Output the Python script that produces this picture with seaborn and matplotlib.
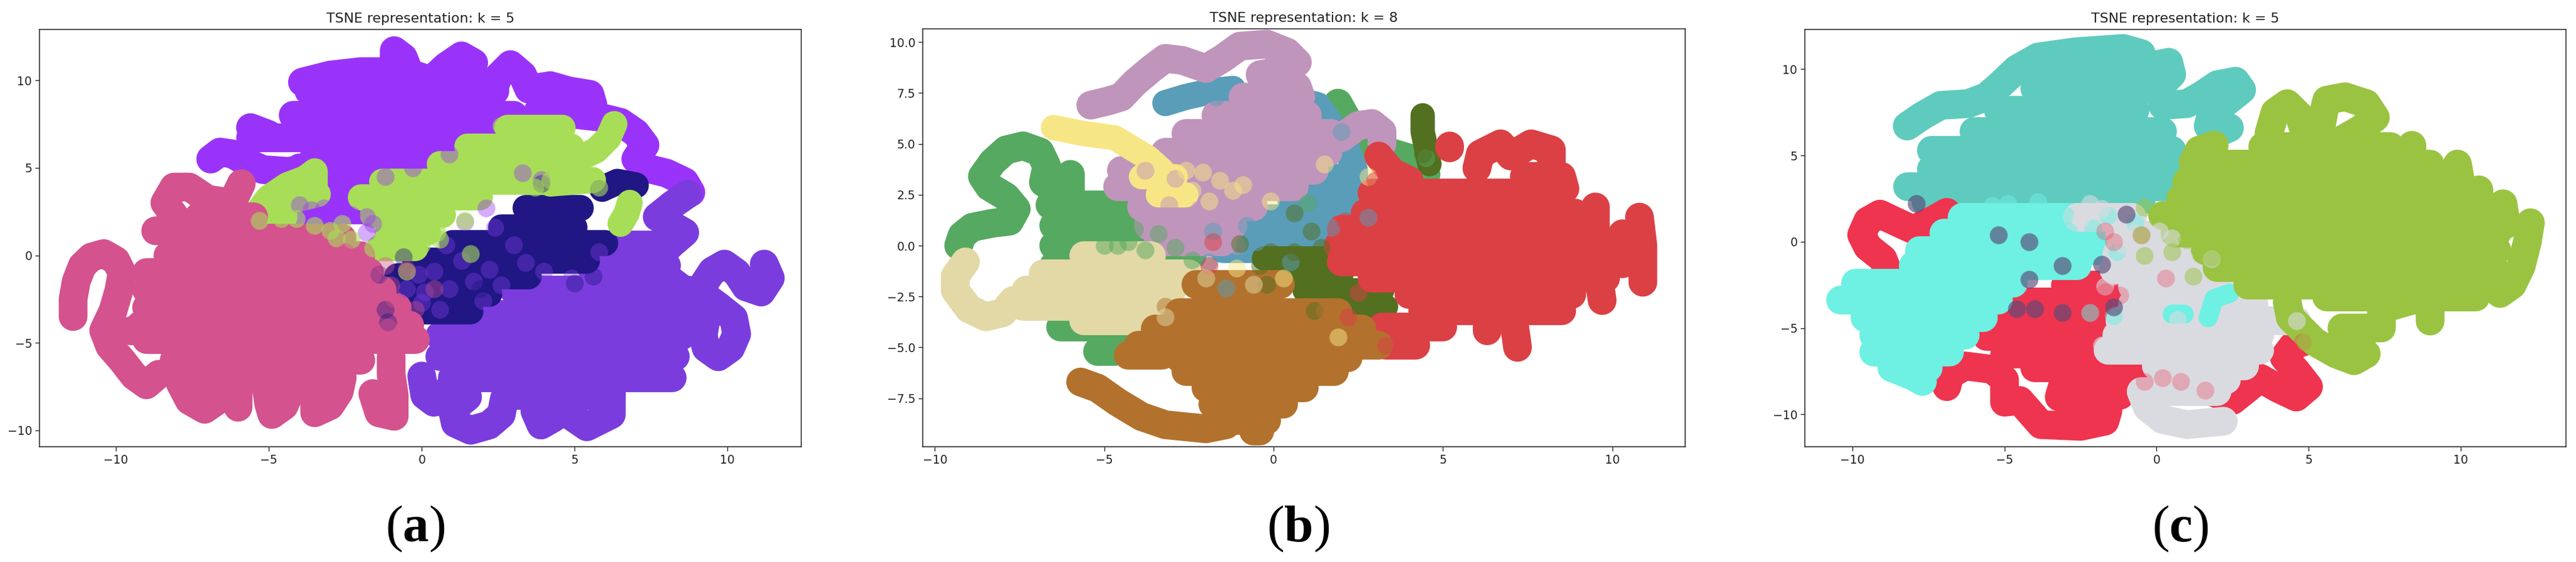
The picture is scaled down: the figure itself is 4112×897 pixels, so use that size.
import pandas as pd
import matplotlib
matplotlib.use("Agg")
import matplotlib.pyplot as plt
import seaborn as sns

sns.set_style("ticks")
plt.rcParams['font.family'] = ['DejaVu Sans']
plt.rcParams['mathtext.fontset'] = 'custom'
plt.rcParams['mathtext.rm'] = 'Liberation Serif'
plt.rcParams['mathtext.bf'] = 'Liberation Serif:bold'

W, H, DPI = 4112, 897, 100
xticks = [-10, -5, 0, 5, 10]
yticks_wide = [-10, -5, 0, 5, 10]
yticks_b = [-7.5, -5.0, -2.5, 0.0, 2.5, 5.0, 7.5, 10.0]

# traces = single strands of points, rows = (y, x from, x to) for the packed parts

# ---- panel a
a_purple = [
    [(-6.9,5.5),(-6.6,5.9),(-6.2,5.8),(-5.7,5.3),(-5.2,4.9),(-4.4,4.8),(-3.7,4.9)],
    [(-3.9,9.9),(-3.0,10.3),(-2.0,10.5),(-1.0,10.5),(-0.9,11.2),(-0.9,11.7),(-0.6,11.3),(-0.4,10.4),(0.3,10.0),(0.8,10.8),(1.3,11.4),(1.7,11.0),(1.5,10.0),(1.4,9.5)],
    [(2.3,9.3),(2.5,10.2),(2.9,10.9),(3.3,10.3),(3.5,9.5),(4.2,9.7),(4.8,9.4),(5.5,9.2),(5.6,8.6),(5.3,8.0)],
    [(3.8,8.2),(4.8,8.1),(5.8,7.9),(6.5,7.6),(7.0,7.0),(7.3,6.3),(7.0,5.5),(7.3,5.0),(8.0,4.7),(8.6,4.2),(8.8,3.6)],
    [(-5.6,7.3),(-5.0,6.9)],
]
a_purple_rows = [(9.4,-3.7,2.4),(8.0,-4.2,3.0),(6.7,-5.6,2.5),(5.7,-3.5,0.0),(5.0,-4.0,0.0),(3.8,-3.5,-1.0),(2.6,-4.0,-1.5)]
a_violet = [
    [(8.7,3.5),(8.2,2.9),(7.7,2.2),(8.2,1.7),(8.6,1.3),(8.2,0.7),(7.9,0.2),(7.9,-1.1),(8.5,-1.9),(9.0,-2.2)],
    [(9.2,-1.7),(9.5,-0.9),(9.9,-0.5),(10.3,-1.0),(10.6,-1.8),(11.1,-2.1),(11.4,-1.3),(11.2,-0.5)],
    [(9.0,-2.0),(9.7,-2.9),(10.2,-3.6),(10.3,-4.5),(10.1,-5.3),(9.7,-5.8),(9.3,-5.3),(9.2,-4.6),(9.3,-3.6),(8.8,-2.8)],
    [(6.2,-7.2),(6.2,-8.2),(6.2,-9.1),(5.4,-9.8),(4.9,-9.2),(4.7,-8.7),(4.3,-9.3),(3.9,-9.7),(3.7,-8.9),(3.9,-8.1)],
    [(2.7,-8.2),(2.6,-9.1),(2.2,-9.7),(1.6,-10.0),(1.1,-9.6),(1.0,-8.8),(1.5,-8.1),(0.9,-7.6),(0.4,-8.4),(0.1,-8.0),(0.0,-6.9)],
]
a_violet_rows = [(0.6,5.5,8.0),(-0.6,5.5,8.0),(-2.0,3.0,8.7),(-3.4,1.6,9.0),(-4.6,0.6,8.5),(-5.8,0.6,8.3),(-7.0,1.0,8.2),(-8.0,3.0,6.2)]
a_navy = [[(5.9,3.8),(6.4,4.2),(7.0,4.0)]]
a_navy_rows = [(2.7,3.4,5.2),(1.6,2.6,5.0),(0.7,1.0,6.0),(-0.3,-0.2,5.4),(-1.2,-0.8,3.5),(-2.2,-1.0,2.2),(-3.2,-0.4,1.6)]
a_green = [
    [(6.3,7.5),(6.1,6.7),(5.7,6.0),(5.1,5.5),(4.8,6.0)],
    [(-5.4,2.4),(-5.0,3.3),(-4.4,4.0),(-3.8,4.4),(-3.5,4.8),(-3.5,3.7)],
    [(-4.8,2.9),(-3.4,3.5)],
    [(6.8,3.0),(6.7,2.4),(6.5,1.8)],
    [(5.6,4.3),(4.2,4.1)],
]
a_green_rows = [(7.3,2.8,4.6),(6.2,1.5,4.9),(5.2,0.6,5.0),(4.2,-1.3,4.0),(3.3,-2.0,1.9),(2.3,-1.6,0.7),(2.2,-5.6,-4.5),(1.3,-1.1,0.2),(0.4,-1.4,-0.2)]
a_pink = [
    [(-11.4,-3.5),(-11.4,-2.5),(-11.3,-1.5),(-11.1,-0.6),(-10.8,-0.1),(-10.4,0.1),(-10.0,-0.3),(-9.8,-1.0),(-9.9,-2.0),(-10.1,-3.2),(-10.4,-4.3),(-10.2,-5.2),(-9.8,-6.0),(-9.4,-6.9),(-9.0,-7.4),(-8.6,-6.8)],
    [(-8.7,1.4),(-7.8,1.6),(-8.4,3.0),(-8.1,3.9),(-7.6,3.9),(-7.0,3.2),(-6.2,3.0),(-5.9,4.1)],
    [(-7.9,-7.3),(-7.6,-8.3),(-7.1,-8.8),(-6.6,-8.2),(-6.6,-7.2)],
    [(-6.0,-7.2),(-6.0,-8.7)],
    [(-5.1,-7.4),(-5.0,-8.5),(-4.9,-9.1),(-4.5,-8.6),(-4.3,-7.8)],
    [(-3.5,-7.8),(-3.5,-9.0),(-3.0,-8.6),(-2.7,-7.8),(-2.6,-7.0)],
    [(-1.6,-7.9),(-1.4,-9.0),(-0.9,-9.2),(-0.9,-8.0),(-1.0,-6.8),(-1.0,-5.8)],
    [(-9.5,-4.3),(-9.0,-4.3)],
]
a_pink_rows = [(2.2,-7.3,-5.5),(1.0,-8.0,-2.6),(0.0,-8.3,-2.0),(-1.0,-9.0,-1.7),(-2.0,-9.0,-1.3),(-3.0,-9.0,-0.8),(-4.0,-9.2,-0.4),(-4.8,-9.0,-0.2),(-6.0,-8.1,-2.0),(-7.0,-7.6,-2.8)]
a_purple_dots = [(-4.0,2.9),(-3.2,2.7),(-2.3,2.3),(-1.8,2.2),(-1.6,1.8),(-1.8,1.3),(-2.6,5.3),(-1.6,5.4),(-0.3,5.0),(0.9,5.8),(3.3,4.7),(3.9,4.3),(2.1,2.7),(1.4,1.9),(-0.7,5.5),(-2.3,4.7),(-1.2,4.5),(-3.6,2.6),(-2.8,2.8)]
a_violet_dots = [(2.4,1.6),(0.1,-2.1),(-0.5,-1.9),(3.4,-0.4),(4.0,-0.9),(2.6,-1.7),(4.9,-1.3),(5.8,0.2),(1.7,-1.5),(0.6,-3.1),(-0.1,-1.1),(7.8,2.2),(0.8,0.6),(1.3,-0.3),(0.4,-0.9),(2.2,-0.8),(3.0,0.6),(0.9,-1.9),(2.0,-2.6),(0.0,-2.7)]
a_navy_dots = [(-1.2,-3.1),(-1.1,-3.8),(-1.4,-1.1),(5.8,3.8),(1.9,-1.9),(3.9,4.1),(5.6,-1.2),(5.0,-1.6),(-0.6,-0.1)]
a_green_dots = [(1.6,0.1),(-0.5,-0.9),(0.5,1.3),(1.4,2.0),(-5.3,2.0),(-4.6,2.1),(-4.1,2.1),(-3.5,1.7),(-2.8,1.0),(-2.3,0.9),(-1.6,0.4),(0.0,0.6),(6.2,7.7),(2.6,7.4),(3.7,3.9),(6.6,1.7),(5.8,3.9),(4.2,4.3),(-2.6,1.8),(-3.0,1.4),(0.6,0.9)]
a_pink_dots = [(-1.0,-1.7),(-1.6,-1.1),(-0.9,-2.5),(-0.5,-0.8),(0.4,-1.9),(-1.1,-4.1),(-5.9,4.1),(-2.5,0.2),(-0.2,-3.1),(-1.2,-0.6)]

# ---- panel b
b_green = [
    [(-9.3,0.0),(-9.2,0.5),(-8.9,0.9),(-8.3,1.1),(-7.8,1.2),(-7.6,1.8),(-7.9,2.4),(-8.4,2.9),(-8.6,3.4),(-8.3,4.1),(-7.9,4.7),(-7.4,4.9),(-6.9,4.6),(-6.7,3.9),(-6.8,3.1),(-6.5,2.8),(-6.0,3.5),(-6.0,2.6)],
    [(1.9,7.0),(2.1,6.4),(2.4,5.6),(2.8,4.9),(3.6,4.5),(4.2,4.2),(4.5,3.5)],
]
b_green_rows = [(2.0,-6.6,-4.3),(1.0,-6.5,-3.2),(0.0,-6.5,-2.6),(-0.5,-4.5,-2.4),(-1.0,-6.5,-5.0),(-2.0,-6.5,-5.0),(-3.0,-6.5,-5.0),(-4.0,-6.3,-4.2),(-5.2,-5.2,-4.7)]
b_blue = [
    [(-3.2,7.0),(-2.6,7.3),(-1.8,7.6),(-1.2,7.7)],
    [(0.6,7.2),(1.3,6.9),(1.6,6.2),(1.9,5.4),(2.2,4.6),(2.4,3.7),(2.4,2.7)],
]
b_blue_rows = [(3.4,1.0,2.3),(2.2,0.5,2.5),(1.4,-0.3,2.7),(0.6,-1.0,1.8),(-0.2,-1.5,0.8)]
b_olive = [[(4.4,6.4),(4.4,5.6),(4.5,4.8),(4.6,4.0)]]
b_olive_rows = [(-0.6,-0.3,1.6),(-1.4,0.2,2.0),(-2.2,0.9,3.2),(-3.0,1.2,3.3)]
b_mauve = [
    [(-5.4,6.9),(-4.9,7.1),(-4.5,7.3),(-4.1,8.0),(-3.6,8.7),(-3.2,9.2),(-2.7,9.1),(-2.0,8.7),(-1.5,9.2),(-1.0,9.8),(-0.2,9.9),(0.4,9.5),(0.7,9.0),(0.3,8.6),(-0.4,8.4),(0.7,7.8),(0.8,7.3)],
    [(2.0,5.3),(2.5,5.9),(2.9,6.0),(3.2,5.6),(3.2,5.0)],
]
b_mauve_rows = [(7.3,-0.9,0.8),(6.4,-1.7,1.0),(5.5,-2.6,1.7),(4.6,-3.2,1.6),(3.7,-4.5,1.2),(2.9,-4.6,0.6),(1.9,-3.9,-0.6),(1.0,-3.7,-1.2),(0.2,-3.4,-1.5)]
b_yellow = [[(-6.5,5.8),(-5.6,5.5),(-4.7,5.3),(-4.2,4.8),(-3.7,4.3),(-3.3,3.7),(-3.0,3.0)]]
b_yellow_rows = [(3.4,-3.9,-2.9),(2.5,-3.4,-2.6)]
b_red = [
    [(5.2,4.9),(5.2,4.8)],
    [(6.0,3.8),(6.1,4.5),(6.7,5.0),(7.0,4.4),(7.6,5.0),(8.2,4.7),(8.2,4.0)],
    [(7.4,3.4),(8.5,3.4),(8.6,2.8)],
    [(3.1,4.4),(3.5,3.6),(4.0,3.2)],
    [(9.5,1.9),(9.5,-0.5),(9.7,-2.7)],
    [(10.8,1.4),(10.9,0.0),(10.9,-1.8)],
    [(10.3,0.6),(10.3,-0.9)],
    [(6.3,-3.4),(6.3,-4.2)],
    [(7.1,-3.8),(7.2,-5.0)],
]
b_red_rows = [(2.6,2.9,8.5),(1.6,2.7,8.9),(0.8,2.0,9.5),(0.0,1.9,10.5),(-0.8,2.0,10.5),(-1.6,2.9,9.8),(-2.4,4.0,8.8),(-3.2,4.4,8.5),(-4.0,3.2,5.0),(-4.9,3.3,4.2)]
b_cream = [[(-9.1,-0.8),(-9.4,-1.5),(-9.4,-2.2),(-9.0,-3.1),(-8.5,-3.5),(-8.0,-3.3),(-7.7,-2.7)]]
b_cream_rows = [(-0.5,-5.6,-3.6),(-1.4,-6.8,-2.5),(-2.2,-7.3,-3.0),(-3.0,-7.4,-3.2),(-3.7,-5.6,-3.3)]
b_brown = [[(-5.7,-6.7),(-5.2,-7.0),(-4.6,-7.7),(-3.9,-8.4),(-3.2,-8.8),(-2.0,-9.0),(-1.4,-8.8)]]
b_brown_rows = [(-1.9,-2.3,0.2),(-2.5,-2.0,-0.5),(-3.3,-2.8,1.9),(-4.1,-3.5,2.6),(-4.9,-4.0,3.1),(-5.4,-4.3,-3.3),(-5.5,-2.8,2.2),(-6.2,-2.6,1.8),(-7.0,-2.0,0.9),(-7.8,-1.8,0.3),(-8.6,-1.5,-0.2),(-9.1,-0.6,-0.4)]
b_mauve_dots = [(-2.9,3.3),(-3.8,3.7),(-2.2,1.8),(-2.5,0.5),(-1.1,0.0),(-1.5,1.9),(-3.5,0.9),(0.7,3.2),(-1.2,3.4),(-2.9,1.2),(-3.1,2.0)]
b_yellow_dots = [(-2.1,3.6),(-1.2,2.7),(-2.4,2.7),(-0.9,3.0),(-0.1,2.2),(1.5,4.0),(2.8,3.4),(0.3,-1.6),(1.9,-4.5),(-1.9,2.2),(-1.1,-1.1),(-1.6,3.2),(-2.6,3.7)]
b_green_dots = [(-4.1,0.8),(-4.3,0.2),(-5.0,0.0),(-2.9,-0.1),(-2.4,-0.7),(-3.4,0.6),(4.5,4.3),(1.0,2.1),(-4.6,0.0),(-3.8,-0.2)]
b_blue_dots = [(-1.8,0.7),(-0.8,1.0),(2.8,1.4),(1.7,0.9),(-1.4,-2.1),(-1.7,7.3),(2.0,5.6),(-1.9,-0.8),(-0.5,0.2),(0.5,-0.8)]
b_red_dots = [(-1.8,0.2),(3.0,3.2),(2.1,1.2),(-1.9,-1.0),(2.5,-2.3),(2.8,-1.0),(2.2,-3.5),(3.3,-4.9),(2.9,-1.8)]
b_olive_dots = [(-1.0,0.1),(-0.1,-0.3),(-0.4,-1.0),(1.4,-0.1),(0.6,-0.3),(1.2,-3.2),(0.6,1.6),(1.1,0.7),(4.4,4.5),(-0.2,-1.9)]
b_brown_dots = [(-3.1,-3.6),(-3.6,-4.1),(-2.4,-2.1),(-0.6,-1.9),(1.5,-3.2),(-3.2,-3.0)]
b_cream_dots = [(-3.2,-3.5),(-0.6,-1.9),(-2.0,-1.6)]

# ---- panel c
c_teal = [
    [(-8.2,6.7),(-7.7,7.3),(-7.1,7.9),(-6.2,8.0),(-5.6,8.4),(-5.2,9.0),(-4.6,10.0),(-3.9,10.7),(-2.7,11.0),(-1.1,11.2),(-0.5,10.9),(-0.7,10.0)],
    [(-0.7,10.0),(0.4,10.4),(0.5,9.7),(0.1,9.0),(-0.4,8.8)],
    [(0.2,7.9),(1.0,8.0),(1.5,8.5),(2.0,9.1),(2.6,9.3),(2.8,8.8),(2.3,8.1),(1.8,7.4),(1.7,6.7),(2.0,6.3),(2.4,6.6)],
]
c_teal_rows = [(10.2,-4.0,-0.9),(8.9,-4.0,-0.5),(7.6,-5.2,-0.7),(6.4,-6.0,0.2),(5.3,-7.4,0.5),(4.2,-7.4,0.4),(3.2,-8.2,0.3),(2.4,-6.0,-0.5),(2.3,-7.6,-6.9)]
c_red = [
    [(-8.8,-1.9),(-9.0,-1.0),(-9.5,-0.3),(-9.7,0.4),(-9.5,1.2),(-9.1,1.6),(-8.5,1.1),(-8.0,0.7),(-7.3,1.3),(-6.9,1.7)],
    [(-6.9,-8.4),(-6.8,-7.7),(-6.3,-7.2),(-5.4,-7.4),(-5.0,-8.0),(-5.0,-9.3),(-4.5,-9.2),(-4.1,-10.0),(-3.8,-10.6),(-2.5,-10.7),(-1.7,-10.4),(-1.6,-9.8),(-2.3,-9.5),(-3.2,-9.0),(-3.1,-8.4),(-2.0,-8.3),(-1.2,-8.9),(-1.0,-8.2),(0.3,-8.0),(1.3,-8.3),(2.5,-9.2),(3.0,-8.5),(3.4,-7.9),(4.0,-8.5),(4.6,-9.0),(5.0,-8.4),(4.6,-7.5),(4.2,-6.7),(4.5,-6.0),(5.0,-5.7)],
]
c_red_rows = [(-2.5,-3.0,-1.6),(-3.5,-4.3,-1.4),(-4.5,-5.0,-1.6),(-5.5,-5.6,-2.2),(-6.5,-5.0,-1.8),(-7.3,-4.0,0.3)]
c_aqua = [[(-8.7,-7.3),(-8.0,-7.8),(-7.7,-8.1)]]
c_aqua_rows = [(1.4,-6.4,-2.6),(0.5,-7.0,-1.2),(-0.5,-7.8,-1.5),(-1.4,-8.0,-2.6),(-2.4,-9.9,-4.7),(-3.4,-10.4,-5.2),(-4.4,-9.6,-5.7),(-5.4,-9.3,-6.3),(-6.4,-9.3,-6.8),(-7.3,-8.7,-7.5)]
c_grey = [[(-0.5,-8.7),(-0.3,-9.6),(0.2,-10.3),(1.0,-10.6),(2.2,-10.4)], [(-0.5,-8.7),(2.0,-8.7)]]
c_grey_rows = [(1.4,-2.6,-0.8),(0.4,-1.2,0.5),(-0.7,-1.3,0.7),(-1.6,-1.4,2.0),(-2.6,-0.8,2.6),(-3.6,-0.8,3.2),(-4.6,-1.2,4.6),(-5.4,-1.3,3.4),(-6.3,-1.6,3.4),(-7.2,0.0,2.9),(-8.0,1.0,2.3)]
c_aqua_patch = [[(2.4,-3.0),(1.9,-3.3),(1.7,-4.4)], [(0.5,-4.2),(0.9,-4.2)]]
c_olive = [
    [(5.4,6.5),(5.5,7.5),(5.6,8.2),(6.2,8.4),(6.9,8.0),(7.2,7.2),(6.7,6.5),(6.0,5.8)],
    [(3.7,6.3),(3.9,7.5),(4.3,8.0),(4.7,7.3),(4.9,6.2)],
    [(1.2,4.6),(1.4,5.3),(1.9,5.6)],
    [(8.4,5.6),(8.4,5.0)],
    [(9.9,4.5),(10.0,3.5)],
    [(10.6,3.0),(10.6,2.0)],
    [(11.4,2.2),(11.5,1.0)],
    [(12.3,1.1),(12.2,0.0),(12.0,-1.4),(11.7,-2.5),(11.3,-3.0)],
    [(9.0,-4.6),(9.0,-3.3),(8.4,-3.4),(7.4,-3.9),(7.4,-5.0),(6.1,-5.0),(6.9,-6.5),(6.5,-6.9),(5.9,-6.5),(5.2,-5.8),(4.4,-4.4),(4.3,-3.5)],
]
c_olive_rows = [(5.5,3.5,7.7),(4.5,2.0,9.0),(3.5,1.0,9.3),(2.5,0.8,10.1),(1.5,0.2,11.3),(0.5,0.6,11.2),(-0.5,1.6,11.2),(-1.5,2.0,11.1),(-2.5,3.0,10.7),(-3.2,5.6,8.4),(-3.2,9.0,10.5)]
c_aqua_dots = [(-3.9,2.3),(-4.9,2.2),(-5.4,2.1),(-3.6,1.3),(-2.9,0.6),(-1.6,1.5),(-2.1,0.8),(-1.3,-0.6),(-2.2,-4.1),(-1.4,-4.3),(-2.9,-0.4),(-4.1,-1.0),(-0.7,1.1),(-3.4,0.0),(-2.4,-1.0),(-3.5,-1.6),(-3.9,0.6),(-3.0,1.5),(-2.0,-0.2)]
c_grey_dots = [(-2.2,2.2),(-2.5,1.3),(-1.8,1.9),(0.5,0.2),(0.1,0.6),(-0.5,-0.8),(1.8,-1.0),(0.7,-4.5),(-1.7,-2.6),(4.6,-4.6),(-1.8,-6.0),(-1.1,-0.2),(-0.7,0.5),(-1.4,-2.0),(0.9,-0.9)]
c_red_dots = [(-1.7,-2.9),(0.3,-2.1),(0.2,-7.9),(0.8,-8.1),(1.6,-8.6),(-0.4,-8.1),(-1.4,0.0),(-0.5,0.4),(4.2,-6.5),(4.8,-5.8),(-1.2,-3.1),(-1.7,0.6)]
c_olive_dots = [(-0.4,2.0),(-0.5,0.4),(1.2,-2.0),(0.5,-0.6),(-0.4,-0.8),(1.9,5.6),(1.8,-0.9),(0.8,3.4),(4.9,-5.8),(1.0,0.1)]
c_dark_dots = [(-5.2,0.4),(-4.2,0.0),(-3.1,-1.4),(-1.8,-1.3),(-1.0,1.6),(-4.2,-2.2),(-7.9,2.2),(-4.0,-3.9),(-3.1,-4.1),(-4.6,-3.9),(-1.4,-3.8)]


def strand(ax, path, color, width):
    df = pd.DataFrame(path, columns=['x', 'y'])
    sns.lineplot(data=df, x='x', y='y', ax=ax, color=color, linewidth=width, sort=False,
                 estimator=None, errorbar=None, legend=False,
                 solid_capstyle='round', solid_joinstyle='round')


def cluster(ax, traces, rows, color, width):
    for path in traces:
        strand(ax, path, color, width)
    for y, x0, x1 in rows:
        strand(ax, [(x0, y), (x1, y)], color, width)


def dots(ax, points, color, alpha=0.4):
    df = pd.DataFrame(points, columns=['x', 'y'])
    sns.scatterplot(data=df, x='x', y='y', ax=ax, color=color, s=420, alpha=alpha,
                    linewidth=0, legend=False, zorder=5)


def make_axes(left, right, top, bottom):
    return fig.add_axes([left / W, 1 - bottom / H, (right - left) / W, (bottom - top) / H])


def finish(ax, xlim, ylim, yticks, title, caption, cap_x):
    ax.set_xlim(xlim)
    ax.set_ylim(ylim)
    ax.set_xticks(xticks)
    ax.set_yticks(yticks)
    ax.set_xlabel('')
    ax.set_ylabel('')
    ax.tick_params(labelsize=13.5, length=5, width=1, color='#222222', labelcolor='#222222')
    for side in ax.spines:
        ax.spines[side].set_visible(True)
        ax.spines[side].set_linewidth(1.2)
        ax.spines[side].set_color('#333333')
    ax.set_title(title, fontsize=15.8, color='#222222', pad=8)
    fig.text(cap_x / W, 1 - 843 / H, caption, fontsize=60, ha='center', va='center', color='black')


fig = plt.figure(figsize=(W / DPI, H / DPI), dpi=DPI, facecolor='white')

# (a)
ax = make_axes(63, 1279, 47, 713)
cluster(ax, a_purple, a_purple_rows, '#9A33F9', 33)
cluster(ax, a_violet, a_violet_rows, '#7B3CDE', 33)
cluster(ax, a_navy, a_navy_rows, '#201684', 30)
cluster(ax, a_green, a_green_rows, '#A8DE57', 30)
cluster(ax, a_pink, a_pink_rows, '#D4528E', 33)
dots(ax, a_purple_dots, '#9A33F9')
dots(ax, a_violet_dots, '#7B3CDE')
dots(ax, a_navy_dots, '#201684')
dots(ax, a_green_dots, '#A8DE57', 0.6)
dots(ax, a_pink_dots, '#D4528E')
finish(ax, (-12.5, 12.41), (-10.94, 12.91), yticks_wide,
       'TSNE representation: k = 5', r'$\mathrm{(}\mathbf{a}\mathrm{)}$', 663)

# (b)
ax = make_axes(1473, 2690, 46, 713)
cluster(ax, b_green, b_green_rows, '#56A960', 33)
cluster(ax, b_blue, b_blue_rows, '#5A9DB8', 30)
cluster(ax, b_olive, b_olive_rows, '#52701F', 28)
cluster(ax, b_mauve, b_mauve_rows, '#C095BB', 33)
cluster(ax, b_yellow, b_yellow_rows, '#F7E685', 29)
cluster(ax, b_red, b_red_rows, '#DB4045', 33)
cluster(ax, b_cream, b_cream_rows, '#E3D9A6', 33)
cluster(ax, b_brown, b_brown_rows, '#B2722D', 33)
for pts, col in [(b_mauve_dots, '#C095BB'), (b_yellow_dots, '#F7E685'), (b_green_dots, '#56A960'),
                 (b_blue_dots, '#5A9DB8'), (b_red_dots, '#DB4045'), (b_olive_dots, '#52701F'),
                 (b_brown_dots, '#B2722D'), (b_cream_dots, '#E3D9A6')]:
    dots(ax, pts, col, 0.5)
finish(ax, (-10.36, 12.15), (-9.88, 10.65), yticks_b,
       'TSNE representation: k = 8', r'$\mathrm{(}\mathbf{b}\mathrm{)}$', 2072)

# (c)
ax = make_axes(2881, 4096, 47, 713)
cluster(ax, c_teal, c_teal_rows, '#5ECBBE', 33)
cluster(ax, c_red, c_red_rows, '#EF344F', 33)
cluster(ax, c_aqua, c_aqua_rows, '#6EF0E3', 33)
cluster(ax, c_grey, c_grey_rows, '#DADBE0', 33)
cluster(ax, c_aqua_patch, [], '#6EF0E3', 22)
cluster(ax, c_olive, c_olive_rows, '#9AC342', 33)
dots(ax, c_aqua_dots, '#6EF0E3', 0.5)
dots(ax, c_grey_dots, '#DADBE0', 0.6)
dots(ax, c_red_dots, '#EF344F', 0.3)
dots(ax, c_olive_dots, '#9AC342', 0.5)
dots(ax, c_dark_dots, '#5A4A78', 0.65)
finish(ax, (-11.57, 13.47), (-11.88, 12.3), yticks_wide,
       'TSNE representation: k = 5', r'$\mathrm{(}\mathbf{c}\mathrm{)}$', 3480)

fig.savefig('out.png', dpi=DPI)
